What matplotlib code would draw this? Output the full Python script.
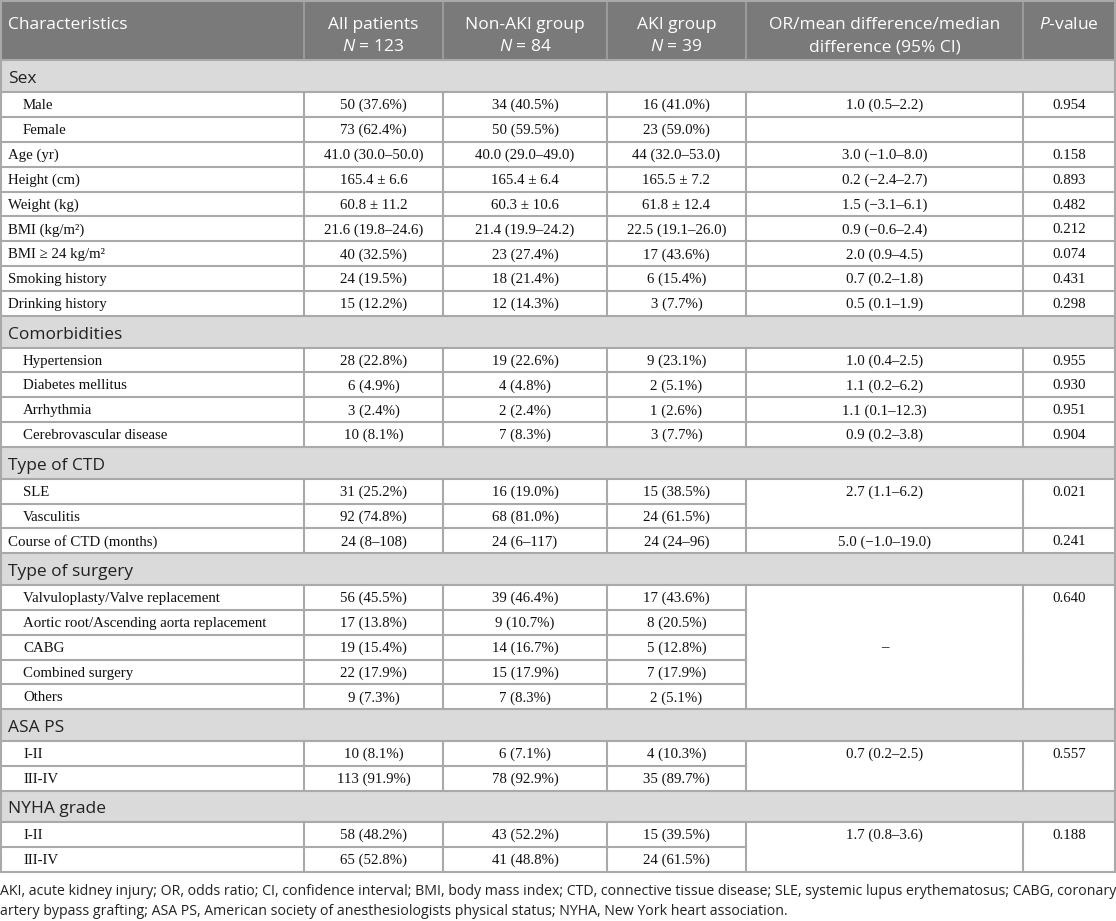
import matplotlib
matplotlib.use("Agg")
import matplotlib.pyplot as plt
from matplotlib.patches import Rectangle

plt.rcParams["mathtext.fontset"] = "custom"
plt.rcParams["mathtext.rm"] = "Open Sans"
plt.rcParams["mathtext.it"] = "Open Sans:italic"

# table content
headers = ["Characteristics", "All patients\n$N$ = 123", "Non-AKI group\n$N$ = 84",
           "AKI group\n$N$ = 39", "OR/mean difference/median\ndifference (95% CI)", "$P$-value"]

labels = ["Male", "Female", "Age (yr)", "Height (cm)", "Weight (kg)", "BMI (kg/m²)",
          "BMI ≥ 24 kg/m²", "Smoking history", "Drinking history",
          "Hypertension", "Diabetes mellitus", "Arrhythmia", "Cerebrovascular disease",
          "SLE", "Vasculitis", "Course of CTD (months)",
          "Valvuloplasty/Valve replacement", "Aortic root/Ascending aorta replacement",
          "CABG", "Combined surgery", "Others",
          "I-II", "III-IV", "I-II", "III-IV"]
indented = [1, 1, 0, 0, 0, 0, 0, 0, 0,
            1, 1, 1, 1,
            1, 1, 0,
            1, 1, 1, 1, 1,
            1, 1, 1, 1]
all_patients = ["50 (37.6%)", "73 (62.4%)", "41.0 (30.0–50.0)", "165.4 ± 6.6", "60.8 ± 11.2",
                "21.6 (19.8–24.6)", "40 (32.5%)", "24 (19.5%)", "15 (12.2%)",
                "28 (22.8%)", "6 (4.9%)", "3 (2.4%)", "10 (8.1%)",
                "31 (25.2%)", "92 (74.8%)", "24 (8–108)",
                "56 (45.5%)", "17 (13.8%)", "19 (15.4%)", "22 (17.9%)", "9 (7.3%)",
                "10 (8.1%)", "113 (91.9%)", "58 (48.2%)", "65 (52.8%)"]
non_aki = ["34 (40.5%)", "50 (59.5%)", "40.0 (29.0–49.0)", "165.4 ± 6.4", "60.3 ± 10.6",
           "21.4 (19.9–24.2)", "23 (27.4%)", "18 (21.4%)", "12 (14.3%)",
           "19 (22.6%)", "4 (4.8%)", "2 (2.4%)", "7 (8.3%)",
           "16 (19.0%)", "68 (81.0%)", "24 (6–117)",
           "39 (46.4%)", "9 (10.7%)", "14 (16.7%)", "15 (17.9%)", "7 (8.3%)",
           "6 (7.1%)", "78 (92.9%)", "43 (52.2%)", "41 (48.8%)"]
aki = ["16 (41.0%)", "23 (59.0%)", "44 (32.0–53.0)", "165.5 ± 7.2", "61.8 ± 12.4",
       "22.5 (19.1–26.0)", "17 (43.6%)", "6 (15.4%)", "3 (7.7%)",
       "9 (23.1%)", "2 (5.1%)", "1 (2.6%)", "3 (7.7%)",
       "15 (38.5%)", "24 (61.5%)", "24 (24–96)",
       "17 (43.6%)", "8 (20.5%)", "5 (12.8%)", "7 (17.9%)", "2 (5.1%)",
       "4 (10.3%)", "35 (89.7%)", "15 (39.5%)", "24 (61.5%)"]
or_ci = ["1.0 (0.5–2.2)", "", "3.0 (−1.0–8.0)", "0.2 (−2.4–2.7)", "1.5 (−3.1–6.1)",
         "0.9 (−0.6–2.4)", "2.0 (0.9–4.5)", "0.7 (0.2–1.8)", "0.5 (0.1–1.9)",
         "1.0 (0.4–2.5)", "1.1 (0.2–6.2)", "1.1 (0.1–12.3)", "0.9 (0.2–3.8)",
         "2.7 (1.1–6.2)", "", "5.0 (−1.0–19.0)",
         "", "", "–", "", "",
         "0.7 (0.2–2.5)", "", "1.7 (0.8–3.6)", ""]
p_values = ["0.954", "", "0.158", "0.893", "0.482", "0.212", "0.074", "0.431", "0.298",
            "0.955", "0.930", "0.951", "0.904",
            "0.021", "", "0.241",
            "0.640", "", "", "", "",
            "0.557", "", "0.188", ""]
# section title shown before the data row with that index
sections = {0: "Sex", 9: "Comorbidities", 13: "Type of CTD", 16: "Type of surgery",
            21: "ASA PS", 23: "NYHA grade"}
# OR / P-value cells merged over rows (first, last)
merged = [(13, 14), (16, 20), (21, 22), (23, 24)]

footnote = ["AKI, acute kidney injury; OR, odds ratio; CI, confidence interval; BMI, body mass index; "
            "CTD, connective tissue disease; SLE, systemic lupus erythematosus; CABG, coronary",
            "artery bypass grafting; ASA PS, American society of anesthesiologists physical status; "
            "NYHA, New York heart association."]

# layout (pixel units)
W, H = 1116, 921
col_x = [1, 304, 443, 607, 746, 1023, 1115]
head_h, sec_h, row_h = 60.5, 31.5, 24.9
line_c = "#a9a9a9"
head_bg = "#7a7a7a"
sec_bg = "#dadada"
lw = 1.5
serif = "Liberation Serif"
sans = "Open Sans"
body_fs = 10.7

fig = plt.figure(figsize=(W / 100, H / 100), dpi=100)
ax = fig.add_axes([0, 0, 1, 1])
ax.set_xlim(0, W)
ax.set_ylim(H, 0)
ax.axis("off")

# header
ax.add_patch(Rectangle((col_x[0], 0), col_x[-1] - col_x[0], head_h, color=head_bg, lw=0))
for i, h in enumerate(headers):
    if i == 0:
        ax.text(col_x[0] + 7, 25, h, fontsize=12.5, family=sans, color="white",
                ha="left", va="center")
    else:
        cx = (col_x[i] + col_x[i + 1]) / 2
        lines = h.split("\n")
        for k, t in enumerate(lines):
            ax.text(cx, 25 + 22 * k, t, fontsize=12.5, family=sans, color="white",
                    ha="center", va="center")
for x in col_x[1:-1]:
    ax.plot([x, x], [0, head_h], color="#9a9a9a", lw=lw)
ax.plot([col_x[0], col_x[-1]], [0.7, 0.7], color=line_c, lw=lw)

# body rows
y = head_h
row_top = []
sec_spans = []
for r in range(len(labels)):
    if r in sections:
        sec_spans.append((y, sections[r]))
        y += sec_h
    row_top.append(y)
    y += row_h
bottom = y

for y0, title in sec_spans:
    ax.add_patch(Rectangle((col_x[0], y0), col_x[-1] - col_x[0], sec_h, color=sec_bg, lw=0))
    ax.text(col_x[0] + 7, y0 + sec_h / 2 + 3, title, fontsize=12.5, family=sans,
            color="#222222", ha="left", va="center")
    ax.plot([col_x[0], col_x[-1]], [y0, y0], color=line_c, lw=lw)

merge_of = {}
for a, b in merged:
    for r in range(a, b + 1):
        merge_of[r] = (a, b)

for r in range(len(labels)):
    t = row_top[r]
    cy = t + row_h / 2 + 1
    ax.text(col_x[0] + (22 if indented[r] else 7), cy, labels[r], fontsize=body_fs,
            family=serif, color="#111111", ha="left", va="center")
    for c, vals in enumerate([all_patients, non_aki, aki], start=1):
        ax.text((col_x[c] + col_x[c + 1]) / 2, cy, vals[r], fontsize=body_fs,
                family=serif, color="#111111", ha="center", va="center")
    # OR and P columns
    for c, vals in [(4, or_ci), (5, p_values)]:
        if not vals[r]:
            continue
        if r in merge_of and vals[r] == "–":
            a, b = merge_of[r]
            yy = (row_top[a] + row_top[b] + row_h) / 2
        else:
            yy = cy
        ax.text((col_x[c] + col_x[c + 1]) / 2, yy, vals[r], fontsize=body_fs,
                family=serif, color="#111111", ha="center", va="center")
    # top line of row
    if r in merge_of and merge_of[r][0] != r:
        ax.plot([col_x[0], col_x[4]], [t, t], color=line_c, lw=lw)
    else:
        ax.plot([col_x[0], col_x[-1]], [t, t], color=line_c, lw=lw)
    for x in col_x[1:-1]:
        ax.plot([x, x], [t, t + row_h], color=line_c, lw=lw)

ax.plot([col_x[0], col_x[-1]], [bottom, bottom], color=line_c, lw=lw)
ax.plot([col_x[0], col_x[0]], [0, bottom], color=line_c, lw=lw)
ax.plot([col_x[-1], col_x[-1]], [0, bottom], color=line_c, lw=lw)

for k, line in enumerate(footnote):
    ax.text(0, bottom + 20 + 20 * k, line, fontsize=10.15,
            family="Open Sans", color="#222222", ha="left", va="center")

fig.savefig("out.png", dpi=100)
